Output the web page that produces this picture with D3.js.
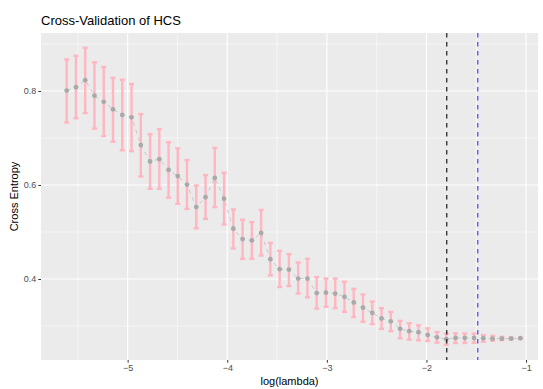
<!DOCTYPE html>
<html><head><meta charset="utf-8">
<script src="https://cdn.jsdelivr.net/npm/d3@7"></script>
<style>body{margin:0;background:#fff}svg{display:block}text{font-family:"Liberation Sans",Arial,sans-serif}</style>
</head><body><div id="chart"></div>
<script>
const logLambda = [-5.612,-5.519,-5.426,-5.333,-5.240,-5.147,-5.054,-4.961,-4.868,-4.775,
  -4.682,-4.589,-4.497,-4.404,-4.311,-4.218,-4.125,-4.032,-3.939,-3.846,
  -3.753,-3.660,-3.567,-3.474,-3.381,-3.288,-3.195,-3.102,-3.009,-2.916,
  -2.823,-2.730,-2.637,-2.544,-2.451,-2.358,-2.265,-2.173,-2.080,-1.987,
  -1.894,-1.801,-1.708,-1.615,-1.522,-1.429,-1.336,-1.243,-1.150,-1.057];
const cvMean = [0.801,0.808,0.823,0.790,0.777,0.761,0.749,0.744,0.685,0.650,
  0.655,0.632,0.619,0.601,0.553,0.574,0.615,0.571,0.507,0.485,
  0.482,0.498,0.442,0.421,0.420,0.401,0.401,0.370,0.371,0.369,
  0.362,0.350,0.339,0.328,0.316,0.310,0.294,0.289,0.287,0.281,
  0.276,0.272,0.2745,0.2745,0.2745,0.274,0.273,0.273,0.273,0.274];
const cvUpper = [0.867,0.875,0.892,0.861,0.851,0.828,0.824,0.815,0.751,0.708,
  0.719,0.691,0.678,0.653,0.599,0.621,0.679,0.626,0.548,0.526,
  0.521,0.547,0.477,0.460,0.453,0.435,0.443,0.404,0.401,0.401,
  0.394,0.379,0.367,0.352,0.338,0.330,0.311,0.306,0.3015,0.295,
  0.287,0.284,0.2845,0.284,0.284,0.281,0.279,0.277,0.276,0.2745];
const cvLower = [0.733,0.742,0.753,0.720,0.704,0.692,0.674,0.672,0.618,0.592,
  0.592,0.573,0.560,0.549,0.508,0.528,0.553,0.516,0.465,0.443,
  0.443,0.450,0.408,0.383,0.385,0.369,0.361,0.337,0.341,0.338,
  0.330,0.319,0.309,0.304,0.294,0.289,0.274,0.271,0.2695,0.268,
  0.2645,0.260,0.264,0.264,0.2645,0.2666,0.2687,0.270,0.2717,0.2735];
const xTicks = [-5,-4,-3,-2,-1];
const xMinor = [-5.5,-4.5,-3.5,-2.5,-1.5];
const yTicks = [0.4,0.6,0.8];
const yMinor = [0.3,0.5,0.7,0.9];
const lambdaMin = -1.796;
const lambda1se = -1.485;
const title = "Cross-Validation of HCS";

const W = 543, H = 389;
const P = {l: 41, t: 33, r: 538, b: 360};
const svg = d3.select("#chart").append("svg").attr("width", W).attr("height", H);
const x = d3.scaleLinear().domain([-5.870, -0.880]).range([P.l, P.r]);
const y = d3.scaleLinear().domain([0.2277, 0.9234]).range([P.b, P.t]);

svg.append("rect").attr("x", P.l).attr("y", P.t).attr("width", P.r - P.l).attr("height", P.b - P.t).attr("fill", "#EBEBEB");
const g = svg.append("g");
g.selectAll(".xmin").data(xMinor).join("line").attr("x1", d => x(d)).attr("x2", d => x(d)).attr("y1", P.t).attr("y2", P.b).attr("stroke", "#fff").attr("stroke-width", 0.55);
g.selectAll(".ymin").data(yMinor).join("line").attr("y1", d => y(d)).attr("y2", d => y(d)).attr("x1", P.l).attr("x2", P.r).attr("stroke", "#fff").attr("stroke-width", 0.55);
g.selectAll(".xmaj").data(xTicks).join("line").attr("x1", d => x(d)).attr("x2", d => x(d)).attr("y1", P.t).attr("y2", P.b).attr("stroke", "#fff").attr("stroke-width", 1.1);
g.selectAll(".ymaj").data(yTicks).join("line").attr("y1", d => y(d)).attr("y2", d => y(d)).attr("x1", P.l).attr("x2", P.r).attr("stroke", "#fff").attr("stroke-width", 1.1);

const data = logLambda.map((l, i) => ({l, m: cvMean[i], u: cvUpper[i], lo: cvLower[i]}));
const capW = 2.5;
const eb = svg.append("g").attr("stroke", "#FFB6C1").attr("stroke-width", 2.4);
eb.selectAll(".v").data(data).join("line").attr("x1", d => x(d.l)).attr("x2", d => x(d.l)).attr("y1", d => y(d.u)).attr("y2", d => y(d.lo));
eb.selectAll(".cu").data(data).join("line").attr("x1", d => x(d.l) - capW).attr("x2", d => x(d.l) + capW).attr("y1", d => y(d.u)).attr("y2", d => y(d.u));
eb.selectAll(".cl").data(data).join("line").attr("x1", d => x(d.l) - capW).attr("x2", d => x(d.l) + capW).attr("y1", d => y(d.lo)).attr("y2", d => y(d.lo));

svg.append("path").datum(data).attr("fill", "none").attr("stroke", "#C8C8C8").attr("stroke-width", 1).attr("stroke-dasharray", "4,4")
  .attr("d", d3.line().x(d => x(d.l)).y(d => y(d.m)));
svg.append("g").selectAll("circle").data(data).join("circle").attr("cx", d => x(d.l)).attr("cy", d => y(d.m)).attr("r", 2.4).attr("fill", "#A9A9A9");

svg.append("line").attr("x1", x(lambdaMin)).attr("x2", x(lambdaMin)).attr("y1", P.t).attr("y2", P.b).attr("stroke", "#1a1a1a").attr("stroke-width", 1.2).attr("stroke-dasharray", "4.5,4.5");
svg.append("line").attr("x1", x(lambda1se)).attr("x2", x(lambda1se)).attr("y1", P.t).attr("y2", P.b).attr("stroke", "#4F4FFF").attr("stroke-width", 1.3).attr("stroke-dasharray", "4.5,4.5");

// axes
const xa = svg.append("g").attr("transform", `translate(0,${P.b})`).call(d3.axisBottom(x).tickValues(xTicks).tickSize(2.7).tickPadding(2).tickFormat(d3.format("d")));
const ya = svg.append("g").attr("transform", `translate(${P.l},0)`).call(d3.axisLeft(y).tickValues(yTicks).tickSize(2.7).tickPadding(2).tickFormat(d3.format(".1f")));
[xa, ya].forEach(a => {
  a.select(".domain").remove();
  a.selectAll(".tick line").attr("stroke", "#333").attr("stroke-width", 1);
  a.selectAll(".tick text").attr("fill", "#4D4D4D").style("font-size", "9px").style("font-family", "'Liberation Sans',Arial,sans-serif");
});

svg.append("text").attr("x", P.l).attr("y", 25).attr("font-size", 13).attr("fill", "#000").text(title);
svg.append("text").attr("x", (P.l + P.r) / 2).attr("y", 385).attr("text-anchor", "middle").attr("font-size", 11).attr("fill", "#000").text("log(lambda)");
svg.append("text").attr("transform", `translate(18,${(P.t + P.b) / 2}) rotate(-90)`).attr("text-anchor", "middle").attr("font-size", 11).attr("fill", "#000").text("Cross Entropy");
</script></body></html>
